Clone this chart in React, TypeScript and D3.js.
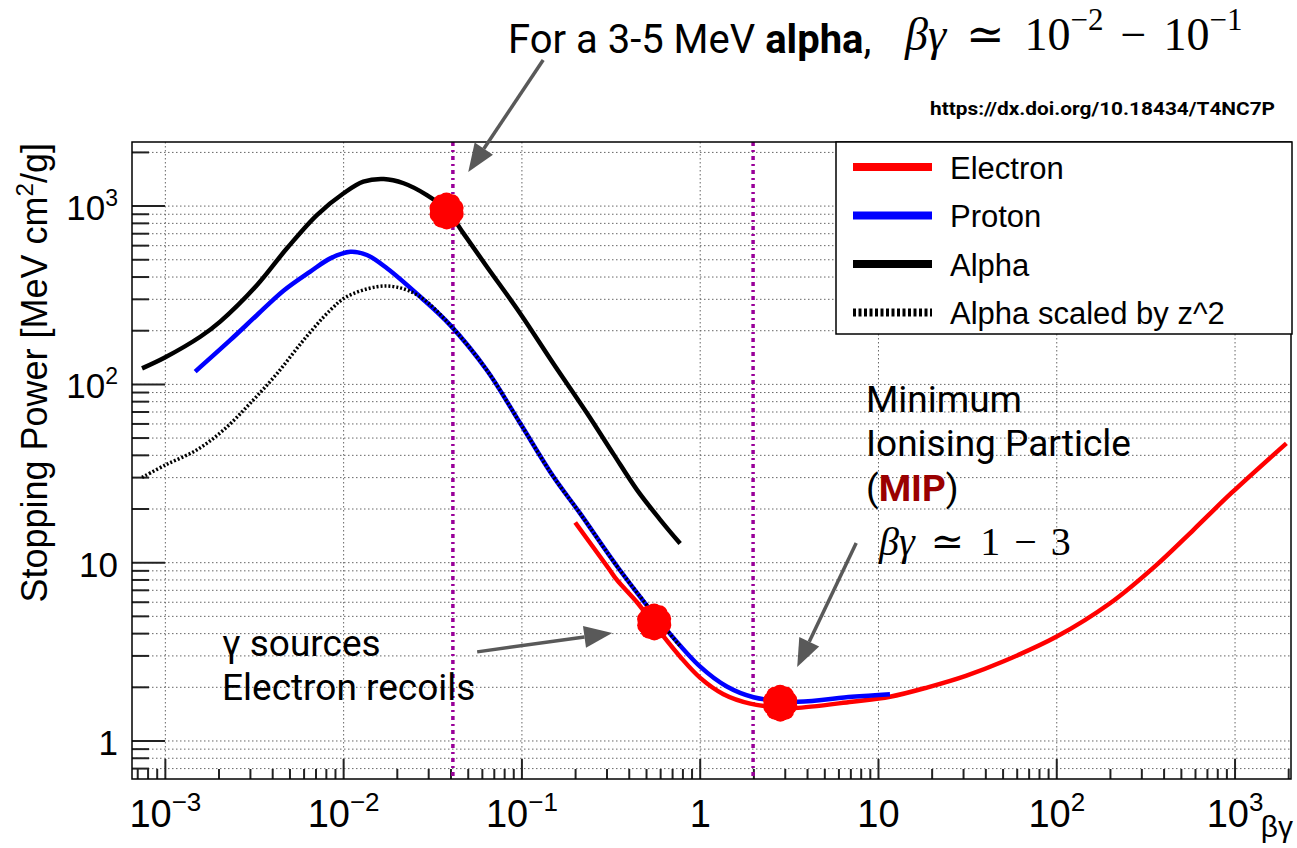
import React, { useEffect, useRef } from "react";
import * as d3 from "d3";

// values: [beta*gamma, stopping power]
const electron: [number, number][] = [
  [0.199, 16.8], [0.306, 9.31], [0.341, 8.0], [0.442, 6.0], [0.572, 4.3],
  [0.772, 2.97], [1.0, 2.26], [1.35, 1.83], [1.91, 1.62], [2.81, 1.54],
  [3.41, 1.53], [7.1, 1.66], [11.6, 1.77], [18.9, 2.0], [30.9, 2.32],
  [50.4, 2.8], [100, 3.85], [199, 5.92], [358, 9.6], [585, 15.3],
  [955, 24.6], [1941, 46.7],
];

const proton: [number, number][] = [
  [1.47e-3, 118], [2.31e-3, 177], [3.27e-3, 245], [4.6e-3, 335], [6.5e-3, 429],
  [8.42e-3, 509], [0.0109, 555], [0.0135, 532], [0.0175, 448], [0.0269, 310],
  [0.0396, 215], [0.0636, 120], [0.0978, 60.5], [0.15, 30.4], [0.212, 18.9],
  [0.348, 9.31], [0.65, 4.19], [1.0, 2.61], [1.41, 2.02], [1.99, 1.76],
  [3.5, 1.66], [7.1, 1.77], [11.6, 1.83],
];

const alpha: [number, number][] = [
  [7.4e-4, 123], [1.0e-3, 142], [1.57e-3, 185], [2.03e-3, 225], [3.27e-3, 361],
  [4.81e-3, 580], [7.08e-3, 891], [0.01, 1180], [0.0129, 1371], [0.0168, 1419],
  [0.0217, 1343], [0.0293, 1153], [0.038, 950], [0.047, 703], [0.0636, 457],
  [0.0978, 250], [0.15, 131], [0.232, 68.9], [0.327, 40.5], [0.442, 25.6],
  [0.597, 17.4], [0.772, 12.8],
];

const alphaScaled: [number, number][] = [
  [7.4e-4, 30.1], [1.0e-3, 35.3], [1.5e-3, 42.9], [2.12e-3, 55.5], [2.99e-3, 78.3],
  [4.23e-3, 115], [5.96e-3, 177], [8.42e-3, 261], [0.0104, 310], [0.0154, 353],
  [0.0199, 351], [0.0269, 310], [0.0396, 215], [0.0636, 120], [0.0978, 60.5],
  [0.15, 30.4], [0.212, 18.9], [0.348, 9.31], [0.65, 4.19], [0.772, 3.4],
];

const seriesNames = ["Electron", "Proton", "Alpha", "Alpha scaled by z^2"];
const seriesColors = ["#ff0000", "#0000ff", "#000000", "#000000"];

const xDomain: [number, number] = [6.5e-4, 2060];
const yDomain: [number, number] = [0.612, 2288];

const xMajorTicks = [1e-3, 1e-2, 1e-1, 1, 10, 100, 1000];
const xTickLabels = [["10", "\u22123"], ["10", "\u22122"], ["10", "\u22121"], ["1", ""], ["10", ""], ["10", "2"], ["10", "3"]];
const yMajorTicks = [1, 10, 100, 1000];
const yTickLabels = [["1", ""], ["10", ""], ["10", "2"], ["10", "3"]];

// purple guide lines, the red highlight blobs and the annotation arrows (data space)
const guideLines = [0.041, 1.98];
const blobs: [number, number][] = [[0.0378, 939], [0.552, 4.65], [2.81, 1.63]];
const arrowFrom: [number, number][] = [[0.1316, 6600], [0.0561, 3.16], [7.5, 12.9]];
const arrowTo: [number, number][] = [[0.05, 1553], [0.321, 4.03], [3.5, 2.6]];

const sans = "'Liberation Sans', Arial, Helvetica, sans-serif";
const roboto = "Roboto, 'Noto Sans', sans-serif";
const serif = "'Liberation Serif', 'DejaVu Serif', serif";

export default function App() {
  const ref = useRef<SVGSVGElement>(null);

  useEffect(() => {
    const svg = d3.select(ref.current);
    svg.selectAll("*").remove();

    const frame = { left: 132, right: 1291, top: 142, bottom: 779 };
    const x = d3.scaleLog().domain(xDomain).range([frame.left, frame.right]);
    const y = d3.scaleLog().domain(yDomain).range([frame.bottom, frame.top]);

    const minors = (dom: [number, number]) => {
      const out: number[] = [];
      for (let e = -4; e <= 4; e++)
        for (let k = 2; k <= 9; k++) {
          const v = k * Math.pow(10, e);
          if (v >= dom[0] && v <= dom[1]) out.push(v);
        }
      return out;
    };
    const xMinor = minors(xDomain);
    const yMinor = minors(yDomain);

    svg.append("rect").attr("width", 1297).attr("height", 848).attr("fill", "#fff");

    // grid
    const grid = svg.append("g").attr("stroke", "#666").attr("stroke-width", 1).attr("stroke-dasharray", "1.5,2.5");
    [...yMajorTicks, ...yMinor].forEach((v) => {
      grid.append("line").attr("x1", frame.left).attr("x2", frame.right).attr("y1", y(v)).attr("y2", y(v));
    });
    xMajorTicks.forEach((v) => {
      grid.append("line").attr("y1", frame.top).attr("y2", frame.bottom).attr("x1", x(v)).attr("x2", x(v));
    });

    // ticks
    const ticks = svg.append("g").attr("stroke", "#222").attr("stroke-width", 2);
    yMajorTicks.forEach((v) => {
      ticks.append("line").attr("x1", frame.left).attr("x2", frame.left + 33).attr("y1", y(v)).attr("y2", y(v));
    });
    yMinor.forEach((v) => {
      ticks.append("line").attr("x1", frame.left).attr("x2", frame.left + 17).attr("y1", y(v)).attr("y2", y(v));
    });
    xMajorTicks.forEach((v) => {
      ticks.append("line").attr("y1", frame.bottom).attr("y2", frame.bottom - 20).attr("x1", x(v)).attr("x2", x(v));
    });
    xMinor.forEach((v) => {
      ticks.append("line").attr("y1", frame.bottom).attr("y2", frame.bottom - 10).attr("x1", x(v)).attr("x2", x(v));
    });

    // purple guides
    guideLines.forEach((v) => {
      svg.append("line")
        .attr("x1", x(v)).attr("x2", x(v))
        .attr("y1", frame.top).attr("y2", frame.bottom)
        .attr("stroke", "#990099")
        .attr("stroke-width", 3.5)
        .attr("stroke-dasharray", "4,4,2,4");
    });

    // curves
    const line = d3.line<[number, number]>()
      .x((d) => x(d[0]))
      .y((d) => y(d[1]))
      .curve(d3.curveCatmullRom.alpha(0.5));

    const curves = [electron, proton, alpha, alphaScaled];
    curves.forEach((data, i) => {
      svg.append("path")
        .attr("d", line(data))
        .attr("fill", "none")
        .attr("stroke", seriesColors[i])
        .attr("stroke-width", i === 3 ? 3.5 : 4.5)
        .attr("stroke-dasharray", i === 3 ? "2,2" : null)
        .attr("stroke-linejoin", "round");
    });

    // frame
    svg.append("rect")
      .attr("x", frame.left).attr("y", frame.top)
      .attr("width", frame.right - frame.left).attr("height", frame.bottom - frame.top)
      .attr("fill", "none").attr("stroke", "#000").attr("stroke-width", 1.5);

    // tick labels
    yMajorTicks.forEach((v, i) => {
      const t = svg.append("text")
        .attr("x", 118).attr("y", y(v) + 14)
        .attr("text-anchor", "end")
        .attr("font-family", sans).attr("font-size", 35);
      t.append("tspan").text(yTickLabels[i][0]);
      if (yTickLabels[i][1]) t.append("tspan").attr("dy", -14).attr("font-size", 23).text(yTickLabels[i][1]);
    });
    xMajorTicks.forEach((v, i) => {
      const t = svg.append("text")
        .attr("x", x(v)).attr("y", 827)
        .attr("text-anchor", "middle")
        .attr("font-family", sans).attr("font-size", 38);
      t.append("tspan").text(xTickLabels[i][0]);
      if (xTickLabels[i][1]) t.append("tspan").attr("dy", -16).attr("font-size", 26).text(xTickLabels[i][1]);
    });

    // axis titles
    const yt = svg.append("text")
      .attr("transform", "translate(47,143) rotate(-90)")
      .attr("text-anchor", "end")
      .attr("font-family", sans).attr("font-size", 36);
    yt.append("tspan").text("Stopping Power [MeV cm");
    yt.append("tspan").attr("dy", -14).attr("font-size", 24).text("2");
    yt.append("tspan").attr("dy", 14).text("/g]");

    svg.append("text")
      .attr("x", 1293).attr("y", 837)
      .attr("text-anchor", "end")
      .attr("font-family", sans).attr("font-size", 30)
      .text("\u03b2\u03b3");

    // legend
    const lg = svg.append("g");
    lg.append("rect")
      .attr("x", 836).attr("y", frame.top).attr("width", 456).attr("height", 192)
      .attr("fill", "#fff").attr("stroke", "#000").attr("stroke-width", 1.5);
    seriesNames.forEach((name, i) => {
      const cy = 167 + i * 48.5;
      lg.append("line")
        .attr("x1", 853).attr("x2", 932).attr("y1", cy).attr("y2", cy)
        .attr("stroke", seriesColors[i])
        .attr("stroke-width", 8)
        .attr("stroke-dasharray", i === 3 ? "3,2.5" : null);
      lg.append("text")
        .attr("x", 950).attr("y", cy + 11.5)
        .attr("font-family", sans).attr("font-size", 31)
        .text(name);
    });

    // red blobs
    blobs.forEach(([bx, by]) => {
      const cx = x(bx), cy = y(by);
      const g = svg.append("g").attr("fill", "#ff0000");
      g.append("circle").attr("cx", cx).attr("cy", cy).attr("r", 14);
      for (let k = 0; k < 10; k++) {
        const a = (k * Math.PI) / 5 + 0.3;
        g.append("circle")
          .attr("cx", cx + 9 * Math.cos(a))
          .attr("cy", cy + 10 * Math.sin(a))
          .attr("r", 8.5);
      }
    });

    // arrows
    arrowFrom.forEach((f, i) => {
      const x0 = x(f[0]), y0 = y(f[1]);
      const x1 = x(arrowTo[i][0]), y1 = y(arrowTo[i][1]);
      const len = Math.hypot(x1 - x0, y1 - y0);
      const ux = (x1 - x0) / len, uy = (y1 - y0) / len;
      const hl = 28, hw = 11;
      const bx = x1 - hl * ux, by = y1 - hl * uy;
      svg.append("line")
        .attr("x1", x0).attr("y1", y0).attr("x2", bx).attr("y2", by)
        .attr("stroke", "#595959").attr("stroke-width", 3.5);
      svg.append("path")
        .attr("d", `M${x1},${y1}L${bx - hw * uy},${by + hw * ux}L${bx + hw * uy},${by - hw * ux}Z`)
        .attr("fill", "#595959");
    });

    // annotations
    const top = svg.append("text")
      .attr("x", 508).attr("y", 53)
      .attr("font-family", roboto).attr("font-size", 40);
    top.append("tspan").text("For a 3-5 MeV ");
    top.append("tspan").attr("font-weight", "bold").text("alpha");
    top.append("tspan").text(",");

    const m1 = svg.append("text")
      .attr("x", 905).attr("y", 50)
      .attr("font-family", serif).attr("font-size", 46);
    m1.append("tspan").attr("font-style", "italic").text("\u03b2\u03b3");
    m1.append("tspan").attr("dx", 20).text("\u2243");
    m1.append("tspan").attr("dx", 20).text("10");
    m1.append("tspan").attr("dy", -20).attr("font-size", 31).text("\u22122");
    m1.append("tspan").attr("dy", 20).attr("dx", 17).text("\u2212");
    m1.append("tspan").attr("dx", 17).text("10");
    m1.append("tspan").attr("dy", -20).attr("font-size", 31).text("\u22121");

    svg.append("text")
      .attr("x", 930).attr("y", 115)
      .attr("font-family", roboto).attr("font-size", 18).attr("font-weight", "bold")
      .attr("textLength", 345).attr("lengthAdjust", "spacingAndGlyphs")
      .text("https://dx.doi.org/10.18434/T4NC7P");

    const mip = svg.append("g").attr("font-family", roboto).attr("font-size", 37);
    mip.append("text").attr("x", 866).attr("y", 412).text("Minimum");
    mip.append("text").attr("x", 866).attr("y", 456).text("Ionising Particle");
    const mt = mip.append("text").attr("x", 866).attr("y", 501);
    mt.append("tspan").text("(");
    mt.append("tspan").attr("font-weight", "bold").attr("fill", "#9a0000").text("MIP");
    mt.append("tspan").text(")");

    const m2 = svg.append("text")
      .attr("x", 879).attr("y", 555)
      .attr("font-family", serif).attr("font-size", 40);
    m2.append("tspan").attr("font-style", "italic").text("\u03b2\u03b3");
    m2.append("tspan").attr("dx", 16).text("\u2243");
    m2.append("tspan").attr("dx", 16).text("1");
    m2.append("tspan").attr("dx", 14).text("\u2212");
    m2.append("tspan").attr("dx", 14).text("3");

    const gs = svg.append("g").attr("font-family", roboto).attr("font-size", 37);
    gs.append("text").attr("x", 222).attr("y", 656).text("\u03b3 sources");
    gs.append("text").attr("x", 222).attr("y", 700).text("Electron recoils");
  }, []);

  return (
    <div style={{ position: "absolute", left: 0, top: 0 }}>
      <svg ref={ref} width={1297} height={848}></svg>
    </div>
  );
}
